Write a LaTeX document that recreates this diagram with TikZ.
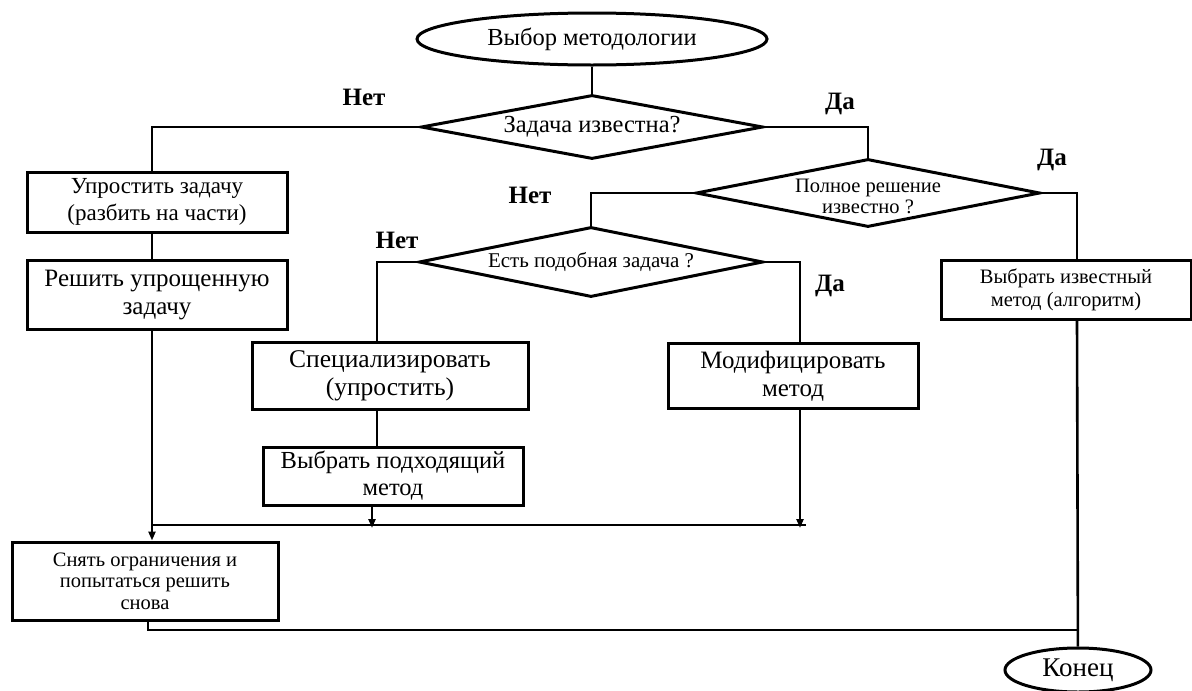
\documentclass[tikz,border=0pt]{standalone}
\usepackage{fontspec}
\setmainfont{Liberation Serif}
\usetikzlibrary{shapes.geometric,arrows.meta}
\newcommand{\fs}[2]{\fontsize{#1}{#2}\selectfont}
\begin{document}
\begin{tikzpicture}[x=1pt,y=-1pt,line width=2.6pt,
  box/.style={draw,rectangle,inner sep=0pt,align=center,line width=3pt},
  oval/.style={draw,ellipse,inner sep=0pt,line width=3pt},
  dia/.style={draw,diamond,inner sep=0pt,line width=3pt},
  lab/.style={font=\fs{25}{28}\bfseries},
  arr/.style={-{Triangle[length=9pt,width=7pt]}}]
\useasboundingbox (0,0) rectangle (1192,691);

% terminals
\node[oval,minimum width=350pt,minimum height=52pt,font=\fs{24.5}{28}] (start) at (592,39) {Выбор методологии};
\node[oval,minimum width=146pt,minimum height=44pt,font=\fs{27}{30}] (end) at (1078,670) {Конец};

% decisions
\node[dia,minimum width=342pt,minimum height=64pt,
      label={[font=\fs{24.5}{28}]center:Задача известна?}] (d1) at (592,127) {};
\node[dia,minimum width=344pt,minimum height=68pt,
      label={[font=\fs{20.5}{21},align=center,yshift=-3pt]center:Полное решение\\известно ?}] (d2) at (868,193) {};
\node[dia,minimum width=344pt,minimum height=70pt,
      label={[font=\fs{21}{24}]center:Есть подобная задача ?}] (d3) at (591,262) {};

% actions
\node[box,minimum width=260pt,minimum height=60pt,font=\fs{23}{27}] (simp) at (157,202) {Упростить задачу\\(разбить на части)};
\node[box,minimum width=260pt,minimum height=69pt,font=\fs{25}{28}] (solve) at (157,295) {Решить упрощенную\\задачу};
\node[box,minimum width=276pt,minimum height=67pt,font=\fs{25.5}{28}] (spec) at (390,376) {Специализировать\\(упростить)};
\node[box,minimum width=260pt,minimum height=58pt,font=\fs{24.5}{27}] (pick) at (393,476) {Выбрать подходящий\\метод};
\node[box,minimum width=250pt,minimum height=65pt,font=\fs{25}{28}] (modif) at (793,376) {Модифицировать\\метод};
\node[box,minimum width=250pt,minimum height=59pt,font=\fs{20.5}{23}] (known) at (1066,290) {Выбрать известный\\метод (алгоритм)};
\node[box,minimum width=266pt,minimum height=78pt,font=\fs{20.5}{21.5}] (relax) at (145,581) {Снять ограничения и\\попытаться решить\\снова};

% branch labels
\node[lab] (n1) at (364,97) {Нет};
\node[lab] (y1) at (840,104) {Да};
\node[lab] (y2) at (1052,160) {Да};
\node[lab] (n2) at (530,195) {Нет};
\node[lab] (n3) at (397,240) {Нет};
\node[lab] (y3) at (830,286) {Да};

% rails and junctions
\coordinate (rail) at (1077,0);
\coordinate (mrail) at (800,0);
\coordinate (srail) at (377,0);
\coordinate (jl) at (152,525);
\coordinate (jr) at (806,525);
\coordinate (bot) at (1077,630);

% connectors
\draw (start) -- (d1);
\draw (d1.west) -| (jl |- simp.north);
\draw (d1.east) -| (d2.north);
\draw (d2.east) -| (rail |- known.north);
\draw (d2.west) -| (d3.north);
\draw (d3.west) -| (srail |- spec.north);
\draw (d3.east) -| (mrail |- modif.north);
\draw (jl |- simp.south) -- (jl |- solve.north);
\draw (srail |- spec.south) -- (srail |- pick.north);
\draw (jl |- solve.south) -- (jl);
\draw (jl) -- (jr);
\draw[arr] (jl) -- (jl |- relax.north);
\draw[arr] ([xshift=-5pt]srail |- pick.south) -- ([xshift=-5pt,yshift=-3pt]srail |- jl);
\draw[arr] (mrail |- modif.south) -- ([yshift=-3pt]mrail |- jl);
\draw ([xshift=3pt]relax.south) |- (bot);
\draw (rail |- known.south) -- (end);
\end{tikzpicture}
\end{document}
